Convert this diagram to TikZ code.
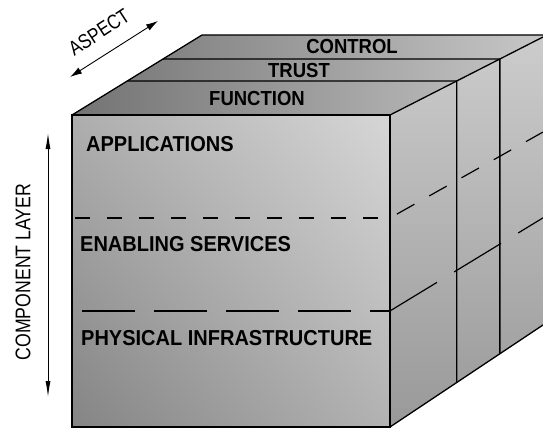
\documentclass[tikz,border=0pt]{standalone}
\usepackage{fontspec}
\setmainfont{Liberation Sans}
\usetikzlibrary{calc,arrows.meta,shadings}

\definecolor{topdark}{gray}{0.45}
\definecolor{toplight}{gray}{0.78}
\definecolor{sidelight}{gray}{0.80}
\definecolor{sidedark}{gray}{0.60}
\definecolor{frontul}{gray}{0.68}
\definecolor{frontur}{gray}{0.84}
\definecolor{frontll}{gray}{0.52}
\definecolor{frontlr}{gray}{0.70}

\tikzset{
  edge/.style={line width=1.3pt},
  shortdash/.style={line width=1.2pt,dash pattern=on 15pt off 17pt},
  longdash/.style={line width=1.2pt,dash pattern=on 53pt off 19pt},
  facelabel/.style={font=\bfseries\fontsize{20}{22}\selectfont,anchor=west,inner sep=0pt},
  toplabel/.style={font=\bfseries\fontsize{18.5}{20}\selectfont,inner sep=0pt},
  axislabel/.style={font=\fontsize{17}{19}\selectfont,inner sep=0pt},
  layerarrow/.style={line width=0.9pt,{Latex[length=16pt,width=5pt]}-{Latex[length=16pt,width=5pt]}},
  aspectarrow/.style={line width=0.9pt,{Latex[length=12pt,width=7pt]}-{Latex[length=12pt,width=7pt]}},
}

\begin{document}
\begin{tikzpicture}[x=1pt,y=-1pt]
\useasboundingbox (0,0) rectangle (543,428);

\coordinate (ftl) at (72,115);
\coordinate (ftr) at (390,115);
\coordinate (fbr) at (390,427);
\coordinate (fbl) at (72,427);
\coordinate (btl) at (202,35);
\coordinate (btr) at (543,37);
\coordinate (bbr) at (543,325);

% faces
\shade[left color=topdark,right color=toplight] (ftl) -- (ftr) -- (btr) -- (543,35) -- (btl) -- cycle;
\shade[upper left=frontul,upper right=frontur,lower left=frontll,lower right=frontlr] (ftl) rectangle (fbr);
\shade[top color=sidelight,bottom color=sidedark] (ftr) -- (btr) -- (bbr) -- (fbr) -- cycle;

% slabs
\coordinate (s1l) at ($(ftl)!.425!(btl)$);
\coordinate (s1r) at ($(ftr)!.436!(btr)$);
\coordinate (s1b) at ($(fbr)!.436!(bbr)$);
\coordinate (s2l) at ($(ftl)!.70!(btl)$);
\coordinate (s2r) at ($(ftr)!.718!(btr)$);
\coordinate (s2b) at ($(fbr)!.718!(bbr)$);
\draw[edge] (s1l) -- (s1r) -- (s1b);
\draw[edge] (s2l) -- (s2r) -- (s2b);

% layers
\draw[shortdash,dash phase=-3pt] ($(ftl)!.33!(fbl)$) -- ($(ftr)!.33!(fbr)$);
\draw[longdash,dash phase=-10pt] ($(ftl)!.628!(fbl)$) -- ($(ftr)!.628!(fbr)$);
\draw[line width=1.2pt,dash pattern=on 20pt off 17pt,dash phase=-8pt] ($(ftr)!.33!(fbr)$) -- ($(btr)!.33!(bbr)$);
\draw[line width=1.2pt,dash pattern=on 55pt off 20pt] ($(ftr)!.628!(fbr)$) -- ($(btr)!.628!(bbr)$);

% outline
\draw[edge] (ftl) rectangle (fbr);
\draw[edge] (ftl) -- (btl) -- (543,35);
\draw[edge] (ftr) -- (btr);
\draw[edge] (fbr) -- (bbr);

\node[toplabel] (control) at (352,46) {\scalebox{1}[1.1]{CONTROL}};
\node[toplabel] (trust) at (299,70) {\scalebox{1}[1.1]{TRUST}};
\node[toplabel] (function) at (257,98) {\scalebox{1}[1.1]{FUNCTION}};

\node[facelabel] (apps) at (86,144) {\scalebox{1}[1.08]{APPLICATIONS}};
\node[facelabel] (enabling) at (80,244) {\scalebox{1}[1.08]{ENABLING SERVICES}};
\node[facelabel] (physical) at (81,338) {\scalebox{1}[1.08]{PHYSICAL INFRASTRUCTURE}};

\coordinate (lay1) at (48,133);
\coordinate (lay2) at (48,397);
\draw[layerarrow] (lay1) -- (lay2);
\node[axislabel,rotate=90] (layer) at (23,272) {\scalebox{1.04}[1.25]{COMPONENT LAYER}};

\coordinate (asp1) at (70,77);
\coordinate (asp2) at (158,21);
\draw[aspectarrow] (asp1) -- (asp2);
\node[axislabel,rotate=33] (aspect) at (99,32) {\scalebox{1}[1.2]{ASPECT}};
\end{tikzpicture}
\end{document}
